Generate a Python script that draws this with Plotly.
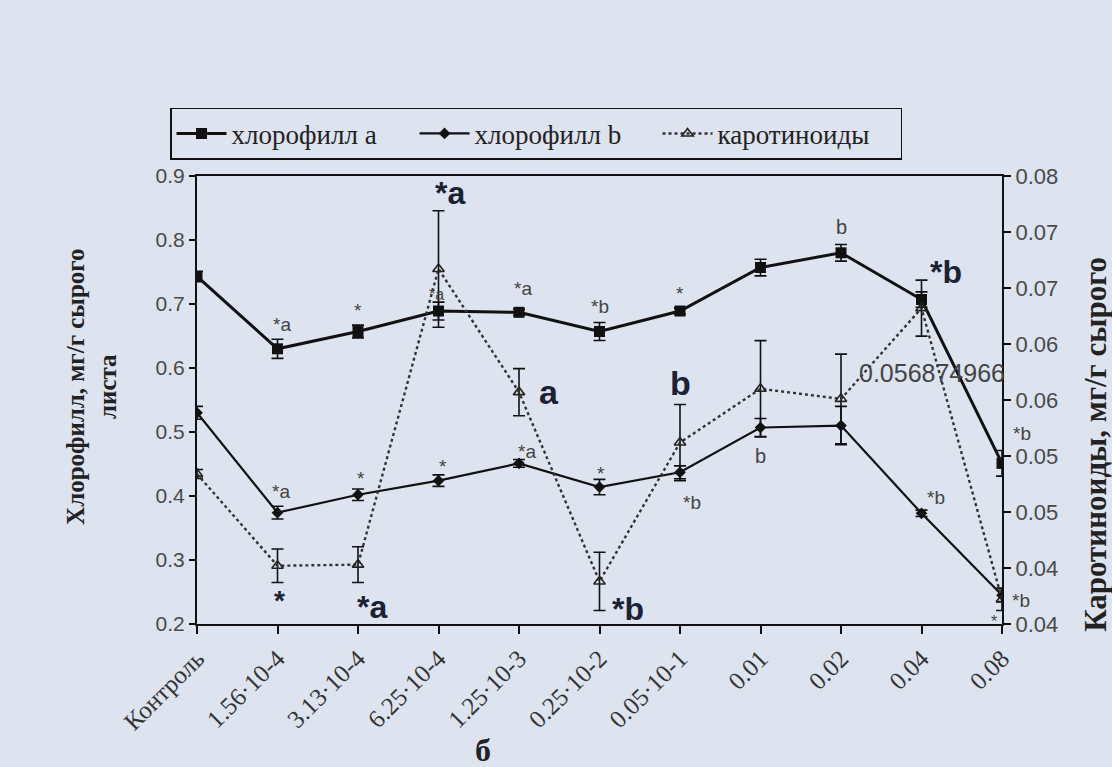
import plotly.graph_objects as go

categories = ["Контроль", "1.56·10-4", "3.13·10-4", "6.25·10-4", "1.25·10-3", "0.25·10-2",
              "0.05·10-1", "0.01", "0.02", "0.04", "0.08"]
chl_a = [0.743, 0.630, 0.657, 0.689, 0.687, 0.657, 0.689, 0.757, 0.780, 0.707, 0.451]
chl_a_err = [0.008, 0.015, 0.010, 0.014, 0.005, 0.014, 0.005, 0.013, 0.013, 0.012, 0.020]
chl_b = [0.530, 0.374, 0.402, 0.424, 0.451, 0.414, 0.437, 0.507, 0.510, 0.373, 0.245]
chl_b_err = [0.010, 0.010, 0.009, 0.009, 0.006, 0.012, 0.010, 0.014, 0.030, 0.005, 0.010]
carot = [0.0534, 0.0452, 0.0453, 0.0717, 0.0607, 0.0438, 0.0562, 0.0610, 0.0601, 0.0682, 0.0422]
carot_err = [0.0004, 0.0015, 0.0016, 0.0052, 0.0021, 0.0026, 0.0034, 0.0043, 0.0040, 0.0025, 0.0010]
y2_ticks = [0.04, 0.045, 0.05, 0.055, 0.06, 0.065, 0.07, 0.075, 0.08]
y2_ticktext = ["0.04", "0.04", "0.05", "0.05", "0.06", "0.06", "0.07", "0.07", "0.08"]
y1_ticks = [0.2, 0.3, 0.4, 0.5, 0.6, 0.7, 0.8, 0.9]

# annotations: (series, index, text, xshift, yshift, size, bold)
labels = [
    ("a", 1, "*a", 4, 24, 19, False), ("a", 2, "*", 0, 21, 19, False),
    ("a", 3, "*a", -2, 17, 16, False), ("a", 4, "*a", 4, 24, 19, False),
    ("a", 5, "*b", 0, 25, 19, False), ("a", 6, "*", 0, 18, 19, False),
    ("a", 8, "b", 0, 26, 20, False), ("a", 9, "*b", 24, 28, 32, True),
    ("a", 10, "*b", 20, 30, 19, False),
    ("b", 1, "*a", 3, 21, 19, False), ("b", 2, "*", 3, 16, 19, False),
    ("b", 3, "*", 4, 14, 19, False), ("b", 4, "*a", 8, 12, 19, False),
    ("b", 5, "*", 1, 14, 19, False), ("b", 6, "*b", 12, -30, 19, False),
    ("b", 7, "b", 0, -28, 20, False), ("b", 9, "*b", 14, 16, 19, False),
    ("b", 10, "*b", 19, -5, 19, False),
    ("c", 1, "*", 2, -35, 28, True), ("c", 2, "*a", 14, -42, 32, True),
    ("c", 3, "*a", 11, 76, 32, True), ("c", 4, "a", 30, 0, 34, True),
    ("c", 5, "*b", 28, -28, 32, True), ("c", 6, "b", 0, 60, 34, True),
    ("c", 10, "*", -8, -22, 16, False),
]

x = list(range(len(categories)))
ink = "#111111"
fig = go.Figure()
fig.add_trace(go.Scatter(
    x=x, y=chl_a, name="хлорофилл a", mode="lines+markers",
    line=dict(color=ink, width=3), marker=dict(symbol="square", size=11, color=ink),
    error_y=dict(type="data", array=chl_a_err, color=ink, thickness=1.6, width=6)))
fig.add_trace(go.Scatter(
    x=x, y=chl_b, name="хлорофилл b", mode="lines+markers",
    line=dict(color=ink, width=2.2), marker=dict(symbol="diamond", size=9, color=ink),
    error_y=dict(type="data", array=chl_b_err, color=ink, thickness=1.6, width=6)))
fig.add_trace(go.Scatter(
    x=x, y=carot, name="каротиноиды", mode="lines+markers", yaxis="y2",
    line=dict(color="#333333", width=2.4, dash="dot"),
    marker=dict(symbol="triangle-up-open", size=10, color="#222222", line=dict(width=1.6)),
    error_y=dict(type="data", array=carot_err, color=ink, thickness=1.6, width=6)))

series = {"a": (chl_a, "y"), "b": (chl_b, "y"), "c": (carot, "y2")}
ann = []
for s, i, t, dx, dy, sz, bold in labels:
    vals, yref = series[s]
    ann.append(dict(x=x[i], y=vals[i], xref="x", yref=yref, text=("<b>%s</b>" % t) if bold else t,
                    showarrow=False, xshift=dx, yshift=dy,
                    font=dict(family="Liberation Sans, Arial", size=sz,
                              color="#1c2233" if bold else "#444444")))
ann.append(dict(x=x[8], y=carot[8], xref="x", yref="y2", text="0.056874966", showarrow=False,
                xanchor="left", xshift=16, yshift=26,
                font=dict(family="Liberation Sans, Arial", size=25, color="#444444")))
ann.append(dict(x=-0.171, y=0.53, xref="paper", yref="paper",
                text="<b>Хлорофилл, мг/г сырого<br>листа</b>",
                showarrow=False, textangle=-90,
                font=dict(family="Liberation Serif, Times New Roman", size=25, color="#222222")))
ann.append(dict(x=1.141, y=0.40, xref="paper", yref="paper", text="<b>Каротиноиды, мг/г сырого</b>",
                showarrow=False, textangle=-90,
                font=dict(family="Liberation Serif, Times New Roman", size=31, color="#222222")))
ann.append(dict(x=0.355, y=-0.281, xref="paper", yref="paper", text="<b>б</b>",
                showarrow=False, yanchor="middle",
                font=dict(family="Liberation Serif, Times New Roman", size=32, color="#222222")))

bg = "#dde3ef"
fig.update_layout(
    width=1112, height=767, paper_bgcolor=bg, plot_bgcolor=bg,
    margin=dict(l=197, r=110, t=176, b=143),
    showlegend=True,
    legend=dict(orientation="h", x=-0.0335, y=1.152, xanchor="left", yanchor="top",
                bordercolor="#111111", borderwidth=1.5, bgcolor=bg,
                font=dict(family="Liberation Serif, Times New Roman", size=27, color="#222222"),
                itemwidth=50, entrywidth=178, entrywidthmode="pixels", tracegroupgap=0),
    xaxis=dict(range=[0, 10], tickmode="array", tickvals=x, ticktext=categories,
               tickangle=-45, showgrid=False, zeroline=False,
               showline=True, linecolor=ink, linewidth=2, mirror=True,
               ticks="outside", ticklen=8, tickwidth=1.5, tickcolor=ink,
               tickfont=dict(family="Liberation Serif, Times New Roman", size=25, color="#333333")),
    yaxis=dict(range=[0.2, 0.9], tickvals=y1_ticks, ticktext=["%.1f" % v for v in y1_ticks],
               showgrid=False, zeroline=False, showline=True, linecolor=ink, linewidth=2,
               ticks="outside", ticklen=6, tickwidth=1.5, tickcolor=ink,
               tickfont=dict(family="Liberation Sans, Arial", size=21, color="#4a4a4a")),
    yaxis2=dict(range=[0.04, 0.08], overlaying="y", side="right", tickvals=y2_ticks,
                ticktext=y2_ticktext, showgrid=False, zeroline=False, showline=True,
                linecolor=ink, linewidth=2, ticks="outside", ticklen=7, tickwidth=1.5,
                tickcolor=ink,
                tickfont=dict(family="Liberation Sans, Arial", size=22, color="#4a4a4a")),
    annotations=ann,
)
fig.write_html("out.html", config={"displayModeBar": False},
               post_script="document.body.style.margin='0px';")
